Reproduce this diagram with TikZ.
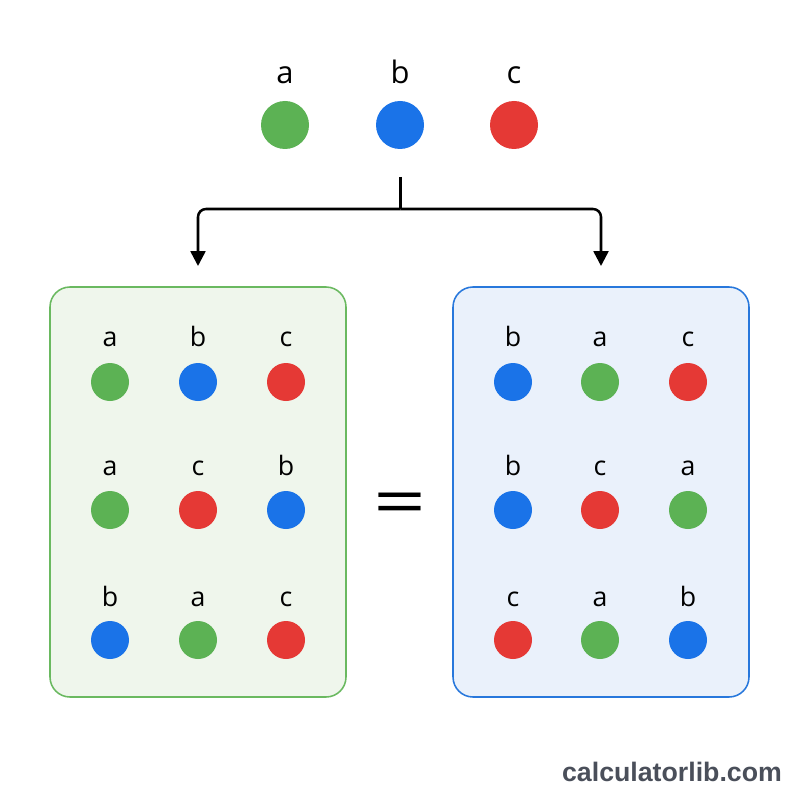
\documentclass[tikz,border=0pt]{standalone}
\usepackage{fontspec}
\setmainfont{Open Sans}
\newfontfamily\markfont{Liberation Sans}
\usetikzlibrary{arrows.meta}

\newlength{\du}
\setlength{\du}{0.025cm}

\definecolor{dotgreen}{RGB}{92,178,84}
\definecolor{dotblue}{RGB}{26,115,232}
\definecolor{dotred}{RGB}{229,57,53}
\definecolor{greenline}{RGB}{106,185,96}
\definecolor{greenfill}{RGB}{239,246,236}
\definecolor{blueline}{RGB}{40,120,220}
\definecolor{bluefill}{RGB}{234,241,251}
\definecolor{markgray}{RGB}{74,79,90}

\tikzset{
  bigdot/.style={circle,fill=#1,inner sep=0pt,minimum size=48\du},
  smalldot/.style={circle,fill=#1,inner sep=0pt,minimum size=38\du},
  biglabel/.style={font=\fontsize{22}{22}\selectfont,inner sep=0pt,anchor=base},
  smalllabel/.style={font=\fontsize{19}{19}\selectfont,inner sep=0pt,anchor=base},
  permbox/.style={draw=#1line,fill=#1fill,line width=1.1pt,rounded corners=20\du,
    minimum width=296\du,minimum height=410\du},
  stem/.style={line width=1.8pt},
  flow/.style={line width=1.8pt,rounded corners=8\du,-{Triangle[length=10.5pt,width=10.5pt]}}
}

\begin{document}
\begin{tikzpicture}[x=1\du,y=-1\du]
\useasboundingbox[fill=white] (0,0) rectangle (800,800);
% the three items
\node[biglabel] (la) at (285,84) {a};
\node[biglabel] (lb) at (400,84) {b};
\node[biglabel] (lc) at (514,84) {c};
\node[bigdot=dotgreen] (ta) at (285,125) {};
\node[bigdot=dotblue] (tb) at (400,125) {};
\node[bigdot=dotred] (tc) at (514,125) {};
% split arrow
\coordinate (split) at (400.5,177);
\coordinate (fork) at (400.5,209);
\coordinate (lin) at (198,266);
\coordinate (rin) at (601,266);
\draw[stem] (split) -- (fork);
\draw[flow] (fork) -| (lin);
\draw[flow] (fork) -| (rin);
% the two boxes
\node[permbox=green] (lbox) at (198,492) {};
\node[permbox=blue] (rbox) at (601,492) {};
% left box, row 1
\node[smalllabel] (l11t) at (110,346) {a};
\node[smalllabel] (l12t) at (198,346) {b};
\node[smalllabel] (l13t) at (286,346) {c};
\node[smalldot=dotgreen] (l11) at (110,382) {};
\node[smalldot=dotblue] (l12) at (198,382) {};
\node[smalldot=dotred] (l13) at (286,382) {};
% left box, row 2
\node[smalllabel] (l21t) at (110,475) {a};
\node[smalllabel] (l22t) at (198,475) {c};
\node[smalllabel] (l23t) at (286,475) {b};
\node[smalldot=dotgreen] (l21) at (110,510) {};
\node[smalldot=dotred] (l22) at (198,510) {};
\node[smalldot=dotblue] (l23) at (286,510) {};
% left box, row 3
\node[smalllabel] (l31t) at (110,606) {b};
\node[smalllabel] (l32t) at (198,606) {a};
\node[smalllabel] (l33t) at (286,606) {c};
\node[smalldot=dotblue] (l31) at (110,640) {};
\node[smalldot=dotgreen] (l32) at (198,640) {};
\node[smalldot=dotred] (l33) at (286,640) {};
% right box, row 1
\node[smalllabel] (r11t) at (513,346) {b};
\node[smalllabel] (r12t) at (600,346) {a};
\node[smalllabel] (r13t) at (688,346) {c};
\node[smalldot=dotblue] (r11) at (513,382) {};
\node[smalldot=dotgreen] (r12) at (600,382) {};
\node[smalldot=dotred] (r13) at (688,382) {};
% right box, row 2
\node[smalllabel] (r21t) at (513,475) {b};
\node[smalllabel] (r22t) at (600,475) {c};
\node[smalllabel] (r23t) at (688,475) {a};
\node[smalldot=dotblue] (r21) at (513,510) {};
\node[smalldot=dotred] (r22) at (600,510) {};
\node[smalldot=dotgreen] (r23) at (688,510) {};
% right box, row 3
\node[smalllabel] (r31t) at (513,606) {c};
\node[smalllabel] (r32t) at (600,606) {a};
\node[smalllabel] (r33t) at (688,606) {b};
\node[smalldot=dotred] (r31) at (513,640) {};
\node[smalldot=dotgreen] (r32) at (600,640) {};
\node[smalldot=dotblue] (r33) at (688,640) {};
% equals sign
\node[font=\fontsize{66}{66}\selectfont,inner sep=0pt] (eq) at (400,509) {\scalebox{1}[0.72]{=}};
% watermark
\node[font=\markfont\bfseries\fontsize{19}{19}\selectfont,text=markgray,inner sep=0pt] (mark) at (672,772) {calculatorlib.com};
\end{tikzpicture}
\end{document}
